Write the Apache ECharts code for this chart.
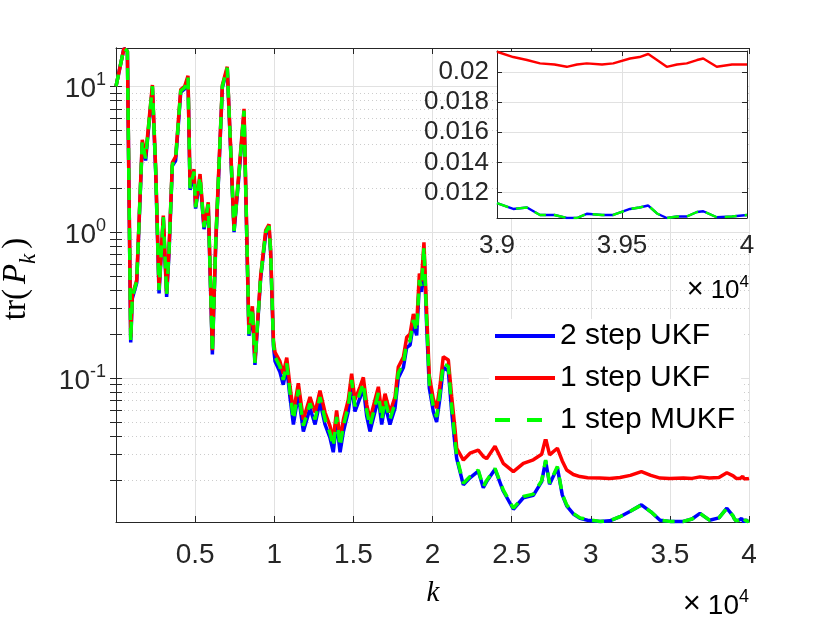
<!DOCTYPE html>
<html>
<head>
<meta charset="utf-8">
<script src="https://cdn.jsdelivr.net/npm/echarts@6/dist/echarts.min.js"></script>
<style>
html, body { margin: 0; padding: 0; background: #fff; }
#chart { width: 830px; height: 623px; }
</style>
</head>
<body>
<div id="chart"></div>
<script>
// 采样点 k
var kSteps = [
    0, 500, 720, 930, 1030, 1310, 1660, 1870, 2300, 2510, 2720, 2990, 3200, 3350, 3560, 3770, 4090, 4340, 4550, 4680,
    4930, 5030, 5310, 5560, 5830, 6090, 6300, 6720, 7030, 7460, 7770, 8090, 8400, 8620, 8780, 9140, 9460, 9670, 9770, 9950,
    10050, 10360, 10570, 10790, 11000, 11210, 11520, 11840, 12260, 12580, 12890, 13210, 13520, 13730, 13940, 14160, 14370, 14680, 14890, 15100,
    15420, 15630, 15840, 16050, 16370, 16580, 16790, 17000, 17310, 17630, 17840, 18160, 18370, 18580, 18790, 19000, 19170, 19300, 19460, 19630,
    19800, 20050, 20260, 20470, 20680, 21000, 21210, 21420,
    21530, 21950, 22370, 22890, 23210, 23420, 23950, 24470, 25110, 25740, 26370, 26900, 27150, 27400, 27890, 28200, 28480, 28900, 29320, 29800,
    30580, 31200, 31850, 32500, 33200, 33800, 34380, 35000, 35850, 36400, 36900, 37500, 38100, 38600,
    39000, 39065, 39120, 39172, 39230, 39279, 39320, 39359, 39420, 39465, 39532, 39570, 39605, 39640, 39679, 39720, 39759, 39800, 39825, 39879,
    39940, 40000
];

// 2 step UKF
var ukf2Vals = [
    10, 18.2, 17.4, 0.175, 0.35, 0.45, 4.1, 3.1, 9.8, 2.55, 0.38, 1.24, 0.36, 0.72, 2.85, 3.1, 9.1, 9.6, 11.3, 1.95,
    2.55, 1.45, 2.35, 1.05, 1.5, 0.145, 0.8, 9.8, 13.2, 1.0, 2.45, 6.6, 0.195, 0.29, 0.123, 0.48, 0.97, 1.07, 0.72, 0.165,
    0.13, 0.11, 0.09, 0.118, 0.073, 0.048, 0.077, 0.043, 0.062, 0.048, 0.069, 0.048, 0.039, 0.031, 0.05, 0.031, 0.043, 0.059, 0.09, 0.059,
    0.073, 0.086, 0.055, 0.043, 0.059, 0.073, 0.048, 0.066, 0.048, 0.062, 0.1, 0.118, 0.162, 0.168, 0.235, 0.196, 0.44, 0.39, 0.76, 0.23,
    0.085, 0.059, 0.05, 0.073, 0.118, 0.112, 0.059, 0.035,
    0.028, 0.0185, 0.0207, 0.023, 0.0177, 0.0195, 0.0237, 0.0168, 0.0126, 0.0151, 0.0157, 0.0195, 0.027, 0.0187, 0.0243, 0.0158, 0.0133, 0.0117, 0.0109, 0.0106,
    0.0104, 0.0105, 0.0112, 0.0122, 0.0135, 0.0121, 0.0106, 0.0104, 0.0104, 0.0108, 0.0118, 0.0106, 0.011, 0.0128,
    0.01129, 0.0109, 0.011, 0.0105, 0.0105, 0.0103, 0.0103, 0.01058, 0.0105, 0.0105, 0.0109, 0.011, 0.01113, 0.0106, 0.0103, 0.0104, 0.0104, 0.0107, 0.01075, 0.01035,
    0.0104, 0.0105
];

// 1 step UKF
var ukf1Vals = [
    10, 18.2, 17.4, 0.19, 0.37, 0.47, 4.3, 3.3, 10.2, 2.7, 0.41, 1.3, 0.38, 0.76, 3.0, 3.3, 9.5, 10, 11.8, 2.1,
    2.7, 1.5, 2.5, 1.1, 1.6, 0.155, 0.85, 10.2, 13.6, 1.05, 2.6, 7.0, 0.21, 0.31, 0.13, 0.5, 1.03, 1.13, 0.76, 0.18,
    0.15, 0.13, 0.107, 0.138, 0.087, 0.058, 0.092, 0.052, 0.074, 0.058, 0.082, 0.058, 0.047, 0.038, 0.06, 0.038, 0.052, 0.071, 0.107, 0.071,
    0.087, 0.101, 0.066, 0.052, 0.071, 0.087, 0.058, 0.078, 0.058, 0.074, 0.119, 0.139, 0.19, 0.2, 0.275, 0.23, 0.52, 0.46, 0.85, 0.28,
    0.103, 0.072, 0.062, 0.088, 0.14, 0.133, 0.075, 0.045,
    0.033, 0.0274, 0.0305, 0.032, 0.029, 0.028, 0.034, 0.026, 0.0228, 0.026, 0.0275, 0.03, 0.0386, 0.0297, 0.033, 0.027, 0.0234, 0.0218, 0.0211, 0.0207,
    0.0206, 0.0205, 0.0208, 0.0215, 0.0228, 0.0215, 0.0206, 0.0205, 0.0206, 0.0205, 0.021, 0.0206, 0.0208, 0.0224,
    0.02135, 0.021, 0.0208, 0.02058, 0.0205, 0.02035, 0.0205, 0.02058, 0.0205, 0.02058, 0.0209, 0.021, 0.0212, 0.0208, 0.02035, 0.0205, 0.02058, 0.0208, 0.0209, 0.02035,
    0.0205, 0.0205
];

// 1 step MUKF
var mukfVals = [
    10, 18.2, 17.4, 0.18, 0.36, 0.46, 4.2, 3.2, 10, 2.6, 0.4, 1.27, 0.37, 0.74, 2.9, 3.2, 9.3, 9.8, 11.5, 2.0,
    2.6, 1.48, 2.4, 1.08, 1.55, 0.15, 0.83, 10, 13.4, 1.02, 2.5, 6.8, 0.2, 0.3, 0.127, 0.49, 1.0, 1.1, 0.74, 0.17,
    0.14, 0.12, 0.097, 0.126, 0.079, 0.052, 0.083, 0.047, 0.067, 0.052, 0.074, 0.052, 0.042, 0.034, 0.054, 0.034, 0.047, 0.064, 0.097, 0.064,
    0.079, 0.092, 0.06, 0.047, 0.064, 0.079, 0.052, 0.071, 0.052, 0.067, 0.108, 0.126, 0.173, 0.18, 0.25, 0.21, 0.47, 0.42, 0.79, 0.25,
    0.092, 0.064, 0.054, 0.079, 0.126, 0.12, 0.064, 0.038,
    0.0288, 0.019, 0.0211, 0.0234, 0.018, 0.0198, 0.024, 0.0171, 0.0128, 0.0154, 0.016, 0.0198, 0.0274, 0.019, 0.0247, 0.016, 0.0135, 0.0118, 0.011, 0.0107,
    0.0104, 0.0105, 0.0112, 0.0122, 0.0135, 0.0121, 0.0106, 0.0104, 0.0104, 0.0108, 0.0118, 0.0106, 0.011, 0.0128,
    0.01129, 0.0109, 0.011, 0.0105, 0.0105, 0.0103, 0.0103, 0.01058, 0.0105, 0.0105, 0.0109, 0.011, 0.01113, 0.0106, 0.0103, 0.0104, 0.0104, 0.0107, 0.01075, 0.01035,
    0.0104, 0.0105
];

var seriesNames = ['2 step UKF', '1 step UKF', '1 step MUKF'];
var yMajor = [0.1, 1, 10];
var yMinor = [0.02, 0.03, 0.04, 0.05, 0.06, 0.07, 0.08, 0.09, 0.2, 0.3, 0.4, 0.5, 0.6, 0.7, 0.8, 0.9, 2, 3, 4, 5, 6, 7, 8, 9];
var insetYTicks = [0.012, 0.014, 0.016, 0.018, 0.02];

(function () {
    var myChart = echarts.init(document.getElementById('chart'));

    var axisColor = '#262626';
    var gridColor = '#e1e1e1';
    var font = 'Liberation Sans';
    var serif = 'Liberation Serif';
    var inset0 = 39000;

    function pairs(vals, from) {
        var out = [];
        for (var i = 0; i < kSteps.length; i++) {
            if (kSteps[i] >= from) out.push([kSteps[i], vals[i]]);
        }
        return out;
    }

    function logLabel(v) {
        var e = Math.round(Math.log10(v));
        return '{b|10}{s|' + e + '}';
    }

    function yLog(extra) {
        var base = {
            type: 'log', logBase: 10, min: 0.0103, max: 18.3, gridIndex: 0,
            axisLine: { show: false },
            axisTick: { show: false },
            axisLabel: { show: false },
            splitLine: { show: false }
        };
        for (var key in extra) base[key] = extra[key];
        return base;
    }

    // ×10^4 角标
    function expText(x, y, size) {
        return {
            type: 'text', x: x, y: y, z: 10,
            style: {
                text: '{x|\u00d7}{b|10}{s|4}', align: 'right', verticalAlign: 'middle',
                rich: {
                    x: { fontFamily: font, fontSize: size + 3, color: axisColor, verticalAlign: 'bottom', lineHeight: 34, padding: [0, 7, 0, 0] },
                    b: { fontFamily: font, fontSize: size, color: axisColor, verticalAlign: 'bottom', lineHeight: 34 },
                    s: { fontFamily: font, fontSize: Math.round(size * 0.66), color: axisColor, verticalAlign: 'bottom', lineHeight: 34, padding: [0, 0, Math.round(size * 0.5), 0] }
                }
            }
        };
    }

    var lineStyles = [
        { color: '#0000ff', type: 'solid' },
        { color: '#ff0000', type: 'solid' },
        { color: '#00ff00', type: [12, 8] }
    ];
    var allVals = [ukf2Vals, ukf1Vals, mukfVals];

    var series = [];
    for (var i = 0; i < 3; i++) {
        series.push({
            name: seriesNames[i], type: 'line', xAxisIndex: 0, yAxisIndex: 0,
            data: pairs(allVals[i], 0), showSymbol: false, symbol: 'none', z: 3,
            lineStyle: { color: lineStyles[i].color, type: lineStyles[i].type, width: 3.5 },
            itemStyle: { color: lineStyles[i].color }
        });
    }
    for (var j = 0; j < 3; j++) {
        series.push({
            name: seriesNames[j], type: 'line', xAxisIndex: 2, yAxisIndex: 4,
            data: pairs(allVals[j], inset0), showSymbol: false, symbol: 'none', z: 3,
            lineStyle: { color: lineStyles[j].color, type: lineStyles[j].type, width: 2.4 },
            itemStyle: { color: lineStyles[j].color }
        });
    }

    var option = {
        animation: false,
        backgroundColor: '#fff',
        grid: [
            { left: 116, top: 48, right: 81, bottom: 101, show: false },
            { left: 497, top: 51, width: 250, height: 167, show: true, backgroundColor: '#fff', borderWidth: 0, z: 1 }
        ],
        legend: {
            data: [
                { name: seriesNames[0] },
                { name: seriesNames[1] },
                { name: seriesNames[2], lineStyle: { type: [15, 17] } }
            ],
            orient: 'vertical',
            left: 489, top: 319,
            padding: [2, 6, 4, 4],
            itemGap: 12,
            itemWidth: 60, itemHeight: 2,
            itemStyle: { opacity: 0 },
            lineStyle: { width: 4 },
            backgroundColor: '#fff',
            z: 5,
            textStyle: { fontFamily: font, fontSize: 30, color: '#000', lineHeight: 28 }
        },
        xAxis: [
            {
                type: 'value', gridIndex: 0, min: 0, max: 40000, interval: 5000, position: 'bottom',
                axisLine: { show: true, lineStyle: { color: axisColor } },
                axisTick: { inside: true, length: 6, lineStyle: { color: axisColor } },
                axisLabel: {
                    fontFamily: font, fontSize: 28, color: axisColor, margin: 19,
                    formatter: function (v) { return v === 0 ? '' : String(v / 10000); }
                },
                splitLine: { show: true, lineStyle: { color: gridColor } }
            },
            {
                type: 'value', gridIndex: 0, min: 0, max: 40000, interval: 5000, position: 'top',
                axisLine: { show: true, lineStyle: { color: axisColor } },
                axisTick: { inside: true, length: 6, lineStyle: { color: axisColor } },
                axisLabel: { show: false },
                splitLine: { show: false }
            },
            {
                type: 'value', gridIndex: 1, min: 39000, max: 40000, interval: 500, position: 'bottom', z: 2,
                axisLine: { show: true, lineStyle: { color: axisColor } },
                axisTick: { inside: true, length: 5, lineStyle: { color: axisColor } },
                axisLabel: {
                    fontFamily: font, fontSize: 26, color: axisColor, margin: 15,
                    formatter: function (v) { return String(v / 10000); }
                },
                splitLine: { show: true, lineStyle: { color: gridColor } }
            },
            {
                type: 'value', gridIndex: 1, min: 39000, max: 40000, interval: 500, position: 'top', z: 2,
                axisLine: { show: true, lineStyle: { color: axisColor } },
                axisTick: { inside: true, length: 5, lineStyle: { color: axisColor } },
                axisLabel: { show: false },
                splitLine: { show: false }
            }
        ],
        yAxis: [
            yLog({
                position: 'left',
                axisLine: { show: true, lineStyle: { color: axisColor } },
                axisTick: { show: true, inside: true, length: 6, customValues: yMajor.concat(yMinor), lineStyle: { color: axisColor } },
                axisLabel: {
                    show: true, customValues: yMajor, margin: 10, formatter: logLabel,
                    rich: {
                        b: { fontFamily: font, fontSize: 28, color: axisColor, verticalAlign: 'bottom', lineHeight: 34 },
                        s: { fontFamily: font, fontSize: 18, color: axisColor, verticalAlign: 'bottom', lineHeight: 34, padding: [0, 0, 14, 0] }
                    }
                }
            }),
            yLog({
                position: 'right',
                axisLine: { show: true, lineStyle: { color: axisColor } },
                axisTick: { show: true, inside: true, length: 6, customValues: yMajor.concat(yMinor), lineStyle: { color: axisColor } }
            }),
            yLog({
                position: 'left',
                axisTick: { show: false, customValues: yMinor },
                splitLine: { show: true, lineStyle: { color: '#cccccc', type: [1, 3] } }
            }),
            yLog({
                position: 'left',
                axisTick: { show: false, customValues: yMajor },
                splitLine: { show: true, lineStyle: { color: gridColor } }
            }),
            {
                type: 'value', gridIndex: 1, min: 0.0103, max: 0.0214, position: 'left', z: 2,
                axisLine: { show: true, lineStyle: { color: axisColor } },
                axisTick: { inside: true, length: 5, customValues: insetYTicks, lineStyle: { color: axisColor } },
                axisLabel: { customValues: insetYTicks, fontFamily: font, fontSize: 26, color: axisColor, margin: 8 },
                splitLine: { show: true, lineStyle: { color: gridColor } }
            },
            {
                type: 'value', gridIndex: 1, min: 0.0103, max: 0.0214, position: 'right', z: 2,
                axisLine: { show: true, lineStyle: { color: axisColor } },
                axisTick: { inside: true, length: 5, customValues: insetYTicks, lineStyle: { color: axisColor } },
                axisLabel: { show: false },
                splitLine: { show: false }
            }
        ],
        graphic: [
            {
                type: 'text', x: 20, y: 279, rotation: Math.PI / 2, z: 10,
                style: {
                    text: '{a|tr(}{p|P}{k|k}{a|)}',
                    align: 'center', verticalAlign: 'middle',
                    rich: {
                        a: { fontFamily: serif, fontSize: 33, color: '#000', padding: [0, 1, 8, 1], verticalAlign: 'bottom' },
                        p: { fontFamily: serif, fontStyle: 'italic', fontSize: 33, color: '#000', padding: [0, 0, 8, 4], verticalAlign: 'bottom' },
                        k: { fontFamily: serif, fontStyle: 'italic', fontSize: 23, color: '#000', padding: [0, 4, 0, 0], verticalAlign: 'bottom' }
                    }
                }
            },
            {
                type: 'text', x: 433, y: 593, z: 10,
                style: {
                    text: 'k', align: 'center', verticalAlign: 'middle',
                    fontFamily: serif, fontStyle: 'italic', fontSize: 29, fill: '#000'
                }
            },
            expText(749, 603, 28),
            expText(749, 287, 26)
        ],
        series: series
    };

    myChart.setOption(option);

    window.addEventListener('resize', function () {
        myChart.resize();
    });
})();
</script>
</body>
</html>
